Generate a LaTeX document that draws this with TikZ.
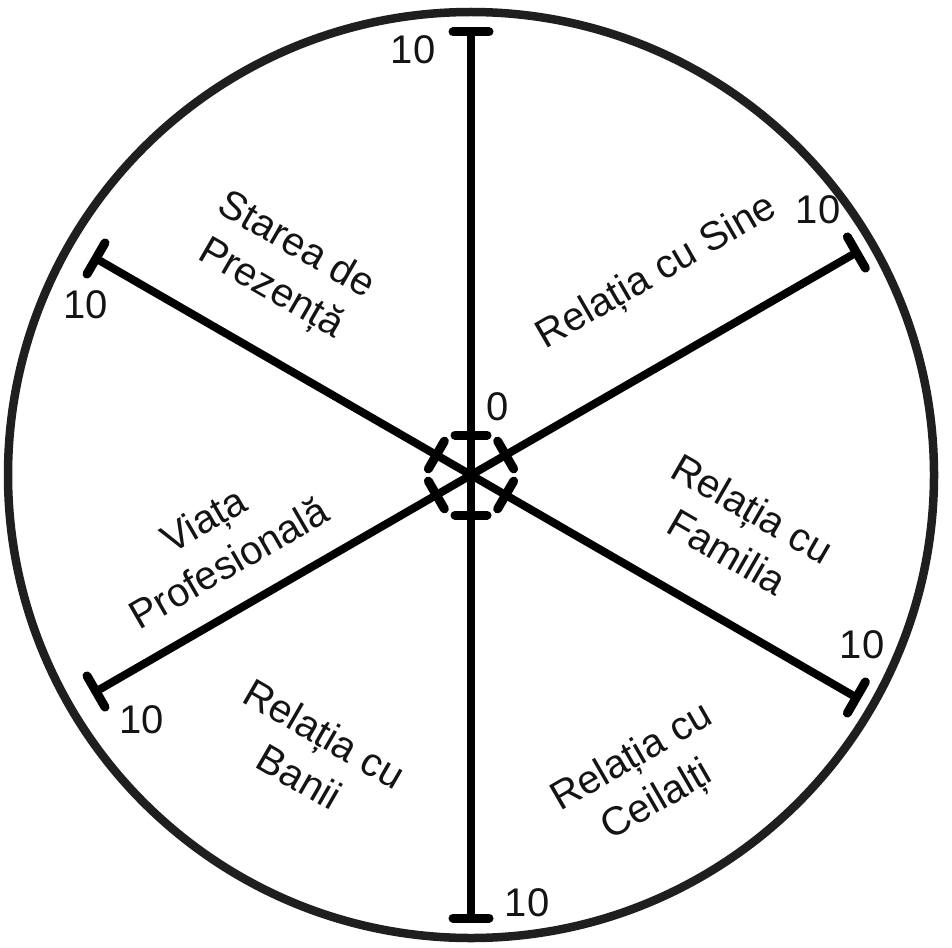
\documentclass[tikz,border=0pt]{standalone}
\usepackage{fontspec}
\setmainfont{Liberation Sans}
\usetikzlibrary{calc}
\begin{document}
\begin{tikzpicture}[x=1pt,y=-1pt,
  axisline/.style={line width=8pt, black},
  capline/.style={line width=9pt, line cap=round, black},
  rim/.style={line width=8.5pt, draw=black!88},
  lab/.style={font=\fontsize{40}{50}\selectfont, align=center, inner sep=0pt, text=black!92},
  num/.style={font=\fontsize{40}{40}\selectfont, inner sep=0pt, text=black!92}]
\useasboundingbox (0,0) rectangle (952,947);
\coordinate (c) at (471,475);
\draw[rim] (c) circle (463);
\foreach \a/\r in {90/443,30/445,-30/445,-90/443,-150/433,150/433}{
  \coordinate (e\a) at ($(c)+(\a:\r)$);
  \coordinate (i\a) at ($(c)+(\a:40)$);
  \draw[axisline] (c) -- (e\a);
  \draw[capline] ($(e\a)+(\a+90:18)$) -- ($(e\a)+(\a-90:18)$);
  \draw[capline] ($(i\a)+(\a+90:16)$) -- ($(i\a)+(\a-90:16)$);
}
\node[lab, rotate=-30] (l1) at (283,268) {Starea de\\Prezență};
\node[lab, rotate=30] (l2) at (657,273) {Relația cu Sine};
\node[lab, rotate=30] (l3) at (216,541) {Viața\\Profesională};
\node[lab, rotate=-30] (l4) at (740,530) {Relația cu\\Familia};
\node[lab, rotate=-30] (l5) at (312,755) {Relația cu\\Banii};
\node[lab, rotate=30] (l6) at (645,780) {Relația cu\\Ceilalți};
\node[num] (n1) at (413,50) {10};
\node[num] (n2) at (86,305) {10};
\node[num] (n3) at (818,210) {10};
\node[num] (n4) at (862,645) {10};
\node[num] (n5) at (142,720) {10};
\node[num] (n6) at (527,903) {10};
\node[num] (n0) at (498,407) {0};
\end{tikzpicture}
\end{document}
